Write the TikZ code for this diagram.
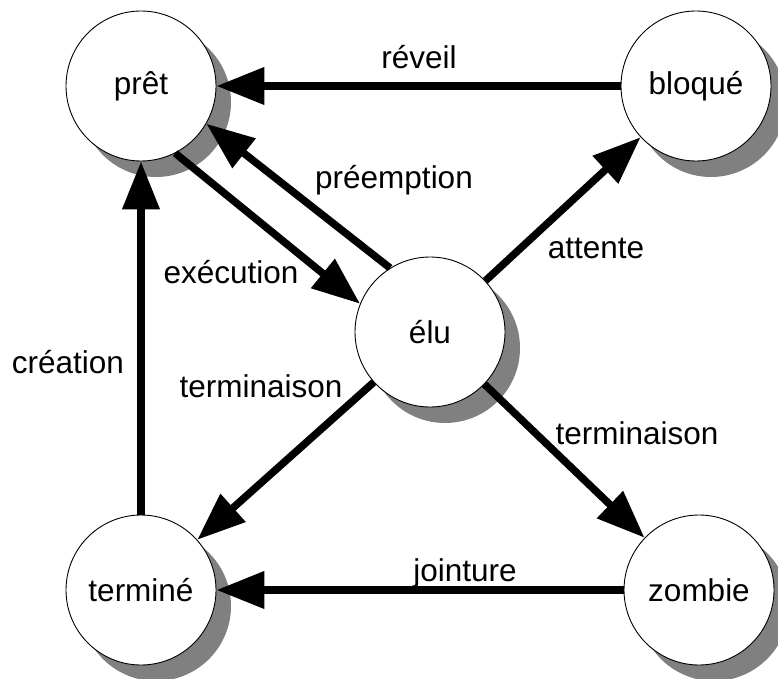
\documentclass[tikz,border=0pt]{standalone}
\usepackage{fontspec}
\setmainfont{Liberation Sans}
\usetikzlibrary{arrows.meta,shadows}
\begin{document}
\begin{tikzpicture}[x=1pt,y=-1pt,
  state/.style={circle, draw=black, line width=0.9pt, fill=white, minimum size=150pt, inner sep=0pt,
    font=\fontsize{31.5}{36}\selectfont,
    general shadow={shadow xshift=15pt, shadow yshift=-16pt, fill=black!50}},
  trans/.style={line width=7.5pt, -{Triangle[length=48pt,width=36pt]}},
  lbl/.style={anchor=base, font=\fontsize{31.5}{36}\selectfont, inner sep=0pt}]
\fill[white] (0,0) rectangle (778,679);
\useasboundingbox (0,0) rectangle (778,679);
\node[state] (pret) at (141,86) {prêt};
\node[state] (bloque) at (696,86) {bloqué};
\node[state] (elu) at (430,332) {élu};
\node[state] (termine) at (141,590) {terminé};
\node[state] (zombie) at (699,590) {zombie};
\draw[trans] (bloque) -- (pret);
\draw[trans] (termine) -- (pret);
\draw[trans] (zombie) -- (termine);
\draw[trans] (elu) -- (bloque);
\draw[trans] (elu) -- (termine);
\draw[trans] (elu) -- (zombie);
\draw[trans] (pret.-63) -- (elu.158);
\draw[trans] (elu.122) -- (pret.-30);
\node[lbl] (l1) at (419,69) {réveil};
\node[lbl] (l2) at (394,188) {préemption};
\node[lbl] (l3) at (231,283) {exécution};
\node[lbl] (l4) at (596,258) {attente};
\node[lbl] (l5) at (68,373) {création};
\node[lbl] (l6) at (261,397) {terminaison};
\node[lbl] (l7) at (637,444) {terminaison};
\node[lbl] (l8) at (465,581) {jointure};
\end{tikzpicture}
\end{document}
